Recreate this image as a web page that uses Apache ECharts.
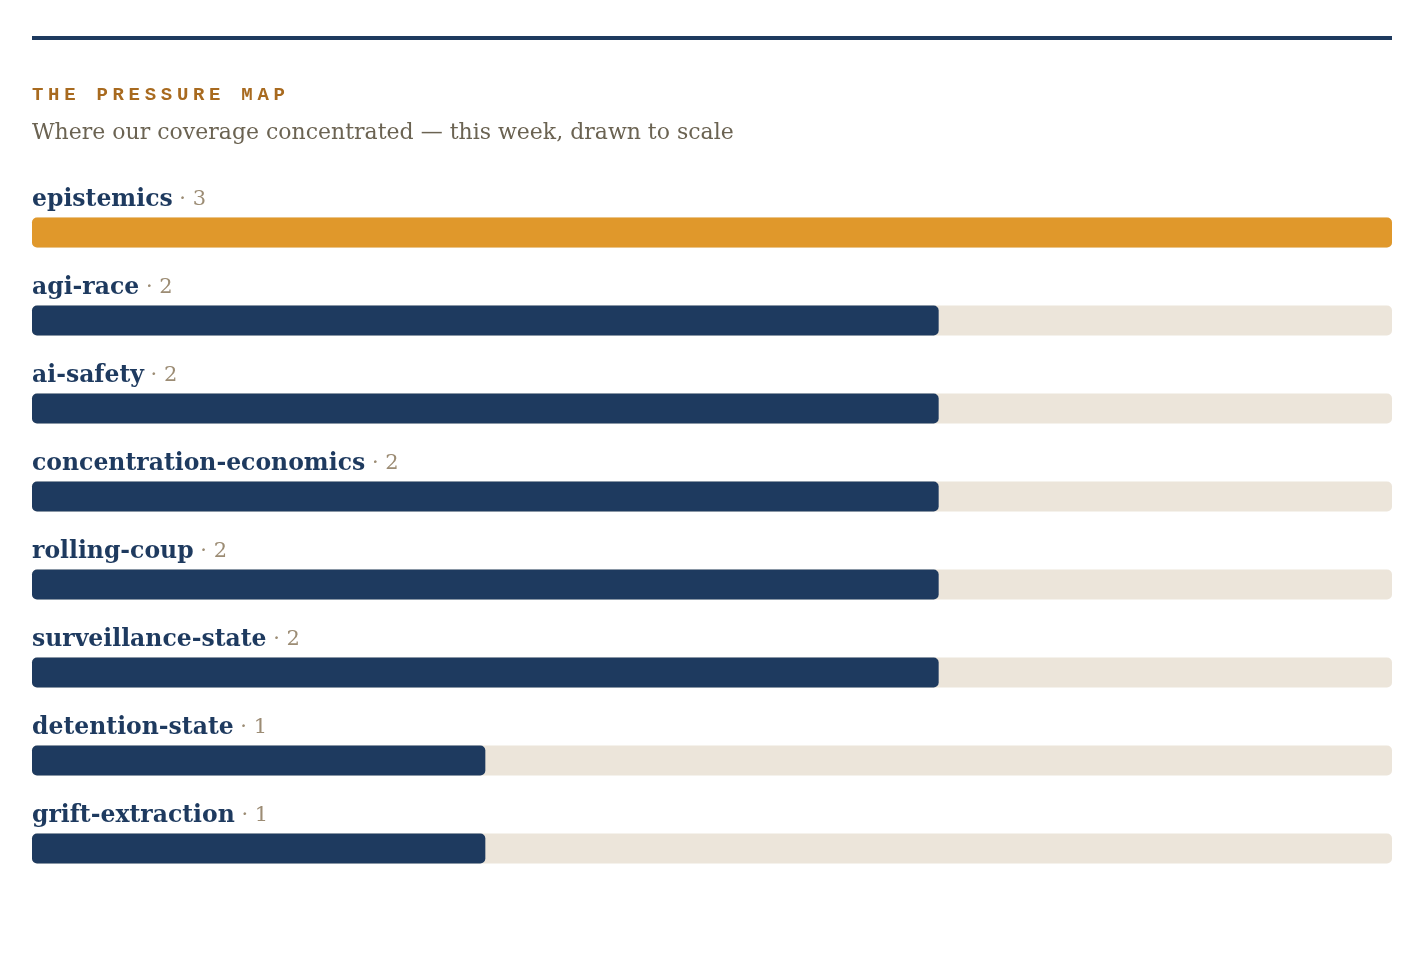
<!DOCTYPE html>
<html>
<head>
<meta charset="utf-8">
<title>The Pressure Map</title>
<script src="https://cdn.jsdelivr.net/npm/echarts@6/dist/echarts.min.js"></script>
<style>
  html, body { margin: 0; padding: 0; background: #fff; }
  #chart { width: 1424px; height: 964px; }
</style>
</head>
<body>
<div id="chart"></div>
<script>
// data
var topics = ['epistemics', 'agi-race', 'ai-safety', 'concentration-economics',
              'rolling-coup', 'surveillance-state', 'detention-state', 'grift-extraction'];
var counts = [3, 2, 2, 2, 2, 2, 1, 1];

var kicker = 'THE PRESSURE MAP';
var subtitle = 'Where our coverage concentrated \u2014 this week, drawn to scale';

var NAVY = '#1e3a5f';
var AMBER = '#e0982b';
var TRACK = '#ece5da';

var maxCount = Math.max.apply(null, counts);

// letter-spaced kicker: one rich token per character
var kickerRich = kicker.split('').map(function (ch) {
  return '{k|' + ch + '}';
}).join('');

var chartDom = document.getElementById('chart');
var myChart = echarts.init(chartDom);
var option;

option = {
  animation: false,
  backgroundColor: '#fff',
  graphic: [
    {
      type: 'rect',
      left: 32,
      top: 36,
      shape: { width: 1360, height: 4 },
      style: { fill: NAVY }
    }
  ],
  title: {
    left: 32,
    top: 86,
    padding: 0,
    text: kickerRich,
    subtext: subtitle,
    itemGap: 17,
    textStyle: {
      rich: {
        k: {
          width: 16.1,
          align: 'left',
          fontFamily: '"Liberation Mono", "DejaVu Sans Mono", monospace',
          fontWeight: 'bold',
          fontSize: 19,
          color: '#a86a1f'
        }
      }
    },
    subtextStyle: {
      fontFamily: '"DejaVu Serif", serif',
      fontSize: 22,
      color: '#6b6352'
    }
  },
  grid: {
    left: 32,
    right: 32,
    top: 188.5,
    bottom: 71.5
  },
  xAxis: {
    type: 'value',
    min: 0,
    max: maxCount,
    show: false
  },
  yAxis: {
    type: 'category',
    inverse: true,
    data: topics,
    axisLine: { show: false },
    axisTick: { show: false },
    splitLine: { show: false },
    axisLabel: {
      inside: true,
      interval: 0,
      margin: 0,
      verticalAlign: 'middle',
      padding: [0, 0, 66, 0],
      formatter: function (value, idx) {
        return '{n|' + value + '}{c| \u00b7 ' + counts[idx] + '}';
      },
      rich: {
        n: {
          fontFamily: '"DejaVu Serif", serif',
          fontWeight: 'bold',
          fontSize: 23.5,
          color: NAVY
        },
        c: {
          fontFamily: '"DejaVu Serif", serif',
          fontSize: 21,
          color: '#9c8c74'
        }
      }
    }
  },
  series: [
    {
      type: 'bar',
      data: counts,
      barWidth: 30,
      showBackground: true,
      backgroundStyle: {
        color: TRACK,
        borderRadius: 5
      },
      itemStyle: {
        borderRadius: 5,
        color: function (p) {
          return p.value === maxCount ? AMBER : NAVY;
        }
      },
      label: { show: false }
    }
  ]
};

if (option && typeof option === 'object') {
  myChart.setOption(option);
}
window.addEventListener('resize', myChart.resize);
</script>
</body>
</html>
